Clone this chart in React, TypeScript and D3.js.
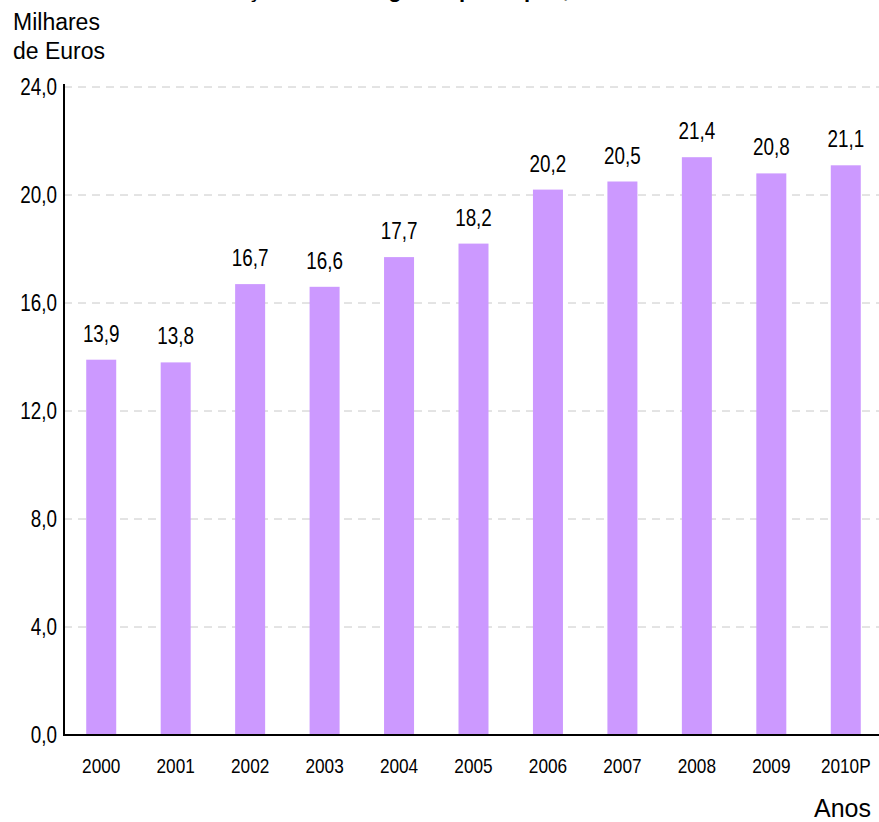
import React from "react";
import * as d3 from "d3";

const years = ["2000", "2001", "2002", "2003", "2004", "2005", "2006", "2007", "2008", "2009", "2010P"];
const values = [13.9, 13.8, 16.7, 16.6, 17.7, 18.2, 20.2, 20.5, 21.4, 20.8, 21.1];
const yTicks = [0, 4, 8, 12, 16, 20, 24];
const titleText = "Evolução do PIB regional per capita, 2000 – 2010P";
const yTitle = ["Milhares", "de Euros"];
const xTitle = "Anos";

const W = 879;
const H = 822;
const regular = "Arial, 'Liberation Sans', Helvetica, sans-serif";
const fmt = (v: number) => v.toFixed(1).replace(".", ",");

function NText({ x, y, size, anchor, children }: { x: number; y: number; size: number; anchor: string; children: React.ReactNode }) {
  return (
    <text
      transform={`translate(${x},${y}) scale(0.82,1)`}
      textAnchor={anchor}
      fontFamily={regular}
      fontSize={size}
      fill="#000"
    >
      {children}
    </text>
  );
}

export default function App() {
  const x0 = 64;
  const y = d3.scaleLinear().domain([0, 24]).range([735, 87]);
  const x = d3.scaleBand<string>().domain(years).range([x0, 883]).paddingInner(0).paddingOuter(0);
  const barW = 30;

  return (
    <svg
      width={W}
      height={H}
      style={{ position: "absolute", top: 0, left: 0, background: "#fff" }}
    >
      <rect x={0} y={0} width={W} height={H} fill="#fff" />
      <text x={450} y={-3} textAnchor="middle" fontFamily={regular} fontWeight="bold" fontSize={22} fill="#000">
        {titleText}
      </text>
      {yTitle.map((t, i) => (
        <text key={t} x={13} y={30 + i * 29} fontFamily={regular} fontSize={23} fill="#000">
          {t}
        </text>
      ))}
      {yTicks.filter((t) => t > 0).map((t) => (
        <line
          key={"g" + t}
          x1={x0}
          x2={W}
          y1={y(t)}
          y2={y(t)}
          stroke="#c8c8c8"
          strokeWidth={1}
          strokeDasharray="8,6"
        />
      ))}
      {yTicks.map((t) => (
        <NText key={"t" + t} x={57} y={y(t) + 8} size={23} anchor="end">
          {fmt(t)}
        </NText>
      ))}
      {years.map((yr, i) => {
        const cx = (x(yr) as number) + x.bandwidth() / 2;
        return (
          <g key={yr}>
            <rect x={cx - barW / 2} y={y(values[i])} width={barW} height={y(0) - y(values[i])} fill="#CC99FF" />
            <NText x={cx} y={y(values[i]) - 18} size={23} anchor="middle">
              {fmt(values[i])}
            </NText>
            <NText x={cx} y={773} size={21} anchor="middle">
              {yr}
            </NText>
          </g>
        );
      })}
      <line x1={x0} x2={x0} y1={84} y2={736} stroke="#000" strokeWidth={2} />
      <line x1={x0 - 1} x2={W} y1={735} y2={735} stroke="#000" strokeWidth={2} />
      <text x={871} y={817} textAnchor="end" fontFamily={regular} fontSize={25} fill="#000">
        {xTitle}
      </text>
    </svg>
  );
}
